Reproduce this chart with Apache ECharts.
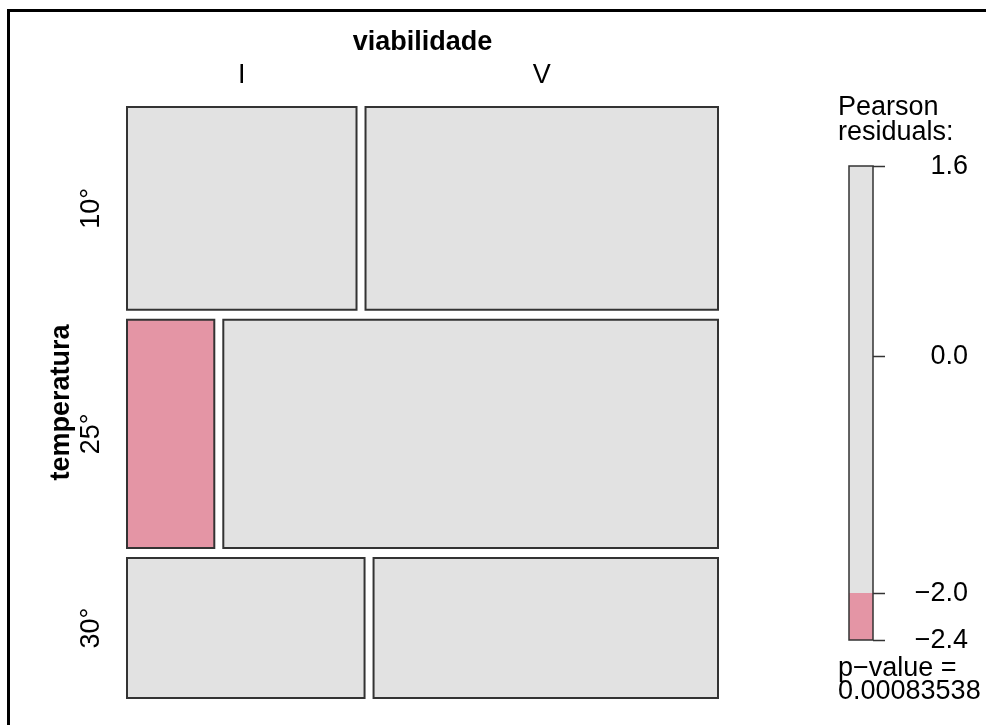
<!DOCTYPE html>
<html>
<head>
<meta charset="utf-8">
<script src="https://cdn.jsdelivr.net/npm/echarts@6/dist/echarts.min.js"></script>
<style>
  html, body { margin: 0; padding: 0; background: #ffffff; }
  #chart { width: 986px; height: 725px; }
</style>
</head>
<body>
<div id="chart"></div>
<script>
// Contingency table: temperatura (rows) x viabilidade (columns)
const rowLevels = ['10°', '25°', '30°'];
const colLevels = ['I', 'V'];
const countI = [28, 12, 20];
const countV = [43, 68, 29];

// Residual legend
const residualTicks = [1.6, 0.0, -2.0, -2.4];
const bandFrom = [-2.0, -2.4];
const bandTo = [1.6, -2.0];
const bandColor = ['#E2E2E2', '#E495A5'];
const pValueLines = ['p\u2212value =', '0.00083538'];

const FONT = '"Liberation Sans", Arial, sans-serif';
const FS = 27;
const GRAY = '#E2E2E2';
const PINK = '#E495A5';
const BLUE = '#8EA8D6';
const EDGE = '#333333';

// spacing between tiles, in fractions of the tiled extent
const GAP_X = 9 / 582;
const GAP_Y = 10 / 571;

const rowTot = countI.map((v, i) => v + countV[i]);
const colTot = [countI.reduce((a, b) => a + b, 0), countV.reduce((a, b) => a + b, 0)];
const N = rowTot.reduce((a, b) => a + b, 0);
const obs = (r, c) => (c === 0 ? countI[r] : countV[r]);
const residual = (r, c) => {
  const e = rowTot[r] * colTot[c] / N;
  return (obs(r, c) - e) / Math.sqrt(e);
};

// tile extents in data units
const rowStart = [];
let acc = 0;
rowTot.forEach((t, i) => { rowStart.push(acc + i * GAP_Y); acc += t / N; });

const cells = [];
rowLevels.forEach((_, r) => colLevels.forEach((__, c) => cells.push([r, c])));

function tileColor(res) {
  if (res <= -2) return PINK;
  if (res >= 2) return BLUE;
  return GRAY;
}

function label(text, x, y, opts) {
  const o = opts || {};
  return {
    type: 'text', x, y, rotation: o.rotation || 0,
    style: {
      text, fill: '#000', font: (o.bold ? 'bold ' : '') + FS + 'px ' + FONT,
      align: o.align || 'center', verticalAlign: 'middle'
    }
  };
}

function renderTile(params, api) {
  const r = api.value(0), c = api.value(1);
  const split = countI[r] / rowTot[r];
  const x0 = c === 0 ? 0 : split + GAP_X;
  const x1 = c === 0 ? split : 1 + GAP_X;
  const y0 = rowStart[r];
  const y1 = rowStart[r] + rowTot[r] / N;
  const p0 = api.coord([x0, y0]);
  const p1 = api.coord([x1, y1]);
  const children = [{
    type: 'rect',
    shape: { x: p0[0], y: p0[1], width: p1[0] - p0[0], height: p1[1] - p0[1] },
    style: { fill: tileColor(residual(r, c)), stroke: EDGE, lineWidth: 2 }
  }];
  if (c === 0) {
    children.push(label(rowLevels[r], p0[0] - 35, (p0[1] + p1[1]) / 2, { rotation: Math.PI / 2 }));
  }
  if (r === 0) {
    children.push(label(colLevels[c], (p0[0] + p1[0]) / 2, p0[1] - 31));
  }
  if (r === 0 && c === 0) {
    const a = api.coord([0, 0]);
    const b = api.coord([1 + GAP_X, 1 + 2 * GAP_Y]);
    children.push(label('viabilidade', (a[0] + b[0]) / 2, a[1] - 64, { bold: true }));
    children.push(label('temperatura', a[0] - 65, (a[1] + b[1]) / 2, { bold: true, rotation: Math.PI / 2 }));
  }
  return { type: 'group', children };
}

// legend items: colour bands, outline, then ticks with their labels
const legendItems = [];
bandFrom.forEach((f, i) => legendItems.push([f, bandTo[i], i, 0]));
legendItems.push([residualTicks[residualTicks.length - 1], residualTicks[0], -1, 1]);
residualTicks.forEach(t => legendItems.push([t, t, -1, 2]));

function renderLegend(params, api) {
  const from = api.value(0), to = api.value(1), idx = api.value(2), kind = api.value(3);
  const p0 = api.coord([0, to]);
  const p1 = api.coord([1, from]);
  if (kind === 0) {
    const y0 = Math.round(p0[1]), y1 = Math.round(p1[1]);
    return { type: 'rect', shape: { x: p0[0], y: y0, width: p1[0] - p0[0], height: y1 - y0 }, style: { fill: bandColor[idx] } };
  }
  if (kind === 1) {
    return { type: 'rect', shape: { x: p0[0], y: p0[1], width: p1[0] - p0[0], height: p1[1] - p0[1] }, style: { fill: 'none', stroke: EDGE, lineWidth: 1.5 } };
  }
  const y = Math.round(p0[1]) + 0.5;
  const txt = (from < 0 ? '\u2212' : '') + Math.abs(from).toFixed(1);
  return {
    type: 'group',
    children: [
      { type: 'line', shape: { x1: p1[0], y1: y, x2: p1[0] + 12, y2: y }, style: { stroke: EDGE, lineWidth: 1.5 } },
      label(txt, p1[0] + 95, y, { align: 'right' })
    ]
  };
}

const chart = echarts.init(document.getElementById('chart'), null, { renderer: 'canvas' });
chart.setOption({
  backgroundColor: '#ffffff',
  animation: false,
  grid: [
    { left: 127, top: 107, width: 591, height: 591 },
    { left: 849, top: 166, width: 24, height: 474 }
  ],
  xAxis: [
    { type: 'value', gridIndex: 0, min: 0, max: 1 + GAP_X, show: false },
    { type: 'value', gridIndex: 1, min: 0, max: 1, show: false }
  ],
  yAxis: [
    { type: 'value', gridIndex: 0, min: 0, max: 1 + 2 * GAP_Y, inverse: true, show: false },
    { type: 'value', gridIndex: 1, min: -2.4, max: 1.6, show: false }
  ],
  graphic: [
    { type: 'rect', shape: { x: 8.5, y: 10.5, width: 1100, height: 900 }, style: { fill: 'none', stroke: '#000', lineWidth: 3 }, silent: true },
    { type: 'text', x: 838, y: 108, style: { text: 'Pearson', fill: '#000', font: FS + 'px ' + FONT, verticalAlign: 'middle' } },
    { type: 'text', x: 838, y: 133, style: { text: 'residuals:', fill: '#000', font: FS + 'px ' + FONT, verticalAlign: 'middle' } },
    { type: 'text', x: 838, y: 669, style: { text: pValueLines[0], fill: '#000', font: FS + 'px ' + FONT, verticalAlign: 'middle' } },
    { type: 'text', x: 838, y: 692, style: { text: pValueLines[1], fill: '#000', font: FS + 'px ' + FONT, verticalAlign: 'middle' } }
  ],
  series: [
    { type: 'custom', xAxisIndex: 0, yAxisIndex: 0, coordinateSystem: 'cartesian2d', data: cells, renderItem: renderTile },
    { type: 'custom', xAxisIndex: 1, yAxisIndex: 1, coordinateSystem: 'cartesian2d', data: legendItems, renderItem: renderLegend }
  ]
});
</script>
</body>
</html>
